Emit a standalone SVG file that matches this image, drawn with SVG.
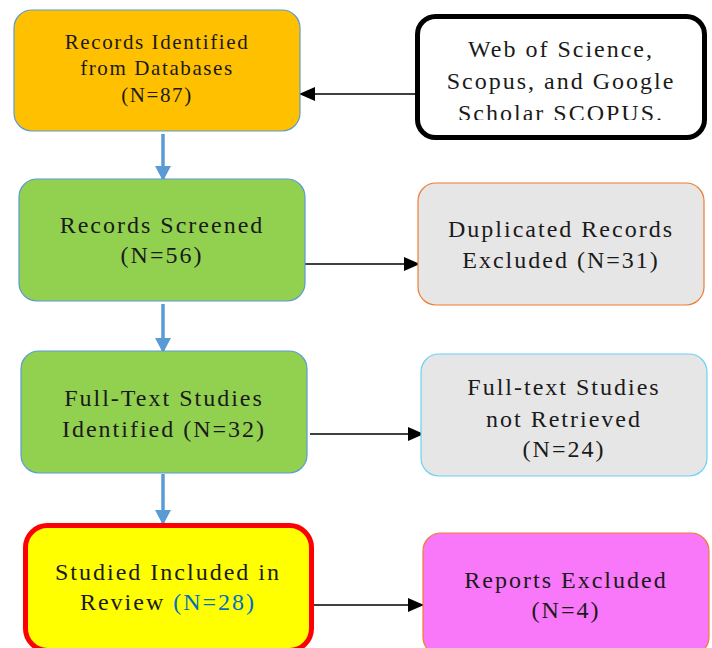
<svg xmlns="http://www.w3.org/2000/svg" width="712" height="648" viewBox="0 0 712 648">
<style>
text{font-family:"Liberation Serif","Times New Roman",serif;font-size:24px;fill:#1a1a1a;text-anchor:middle;letter-spacing:2px}
.sm{font-size:21px;letter-spacing:1.6px}
.blue{stroke:#5B9BD5;stroke-width:3.5;fill:none}
.blk{stroke:#000;stroke-width:1.5;fill:none}
</style>
<defs>
<marker id="ab" markerUnits="userSpaceOnUse" markerWidth="16" markerHeight="16" refX="14" refY="8" orient="auto"><path d="M0,0 L15,8 L0,16 Z" fill="#5B9BD5"/></marker>
<marker id="ak" markerUnits="userSpaceOnUse" markerWidth="16" markerHeight="16" refX="15" refY="8" orient="auto"><path d="M0,1 L16,8 L0,15 Z" fill="#000"/></marker>
<clipPath id="wclip"><rect x="420" y="20" width="282" height="100"/></clipPath>
</defs>
<g id="connectors">
<line class="blue" x1="163" y1="134" x2="163" y2="180" marker-end="url(#ab)"/>
<line class="blue" x1="163" y1="304" x2="163" y2="352" marker-end="url(#ab)"/>
<line class="blue" x1="163" y1="474" x2="163" y2="524" marker-end="url(#ab)"/>
<line class="blk" x1="415" y1="94" x2="300" y2="94" marker-end="url(#ak)"/>
<line class="blk" x1="305" y1="264" x2="419" y2="264" marker-end="url(#ak)"/>
<line class="blk" x1="310" y1="434" x2="423" y2="434" marker-end="url(#ak)"/>
<line class="blk" x1="313" y1="605" x2="423" y2="605" marker-end="url(#ak)"/>
</g>
<g id="n1">
<rect x="14" y="10" width="286" height="121" rx="18" fill="#FFC000" stroke="#5B9BD5" stroke-width="1.2"/>
<text class="sm" x="157" y="49">Records Identified</text>
<text class="sm" x="157" y="75">from Databases</text>
<text class="sm" x="157" y="102">(N=87)</text>
</g>
<g id="n2">
<rect x="417.5" y="16.5" width="287" height="121" rx="18" fill="#fff" stroke="#000" stroke-width="5"/>
<g clip-path="url(#wclip)">
<text x="561" y="57">Web of Science,</text>
<text x="561" y="89">Scopus, and Google</text>
<text x="561" y="121">Scholar SCOPUS.</text>
</g>
</g>
<g id="n3">
<rect x="19" y="179" width="286" height="122" rx="18" fill="#92D050" stroke="#5B9BD5" stroke-width="1.2"/>
<text x="162" y="233">Records Screened</text>
<text x="162" y="263">(N=56)</text>
</g>
<g id="n4">
<rect x="418" y="183" width="286" height="122" rx="18" fill="#E7E6E6" stroke="#ED7D31" stroke-width="1.2"/>
<text x="561" y="237">Duplicated Records</text>
<text x="561" y="268">Excluded (N=31)</text>
</g>
<g id="n5">
<rect x="21" y="351" width="286" height="122" rx="18" fill="#92D050" stroke="#5B9BD5" stroke-width="1.2"/>
<text x="164" y="406">Full-Text Studies</text>
<text x="164" y="437">Identified (N=32)</text>
</g>
<g id="n6">
<rect x="421" y="354" width="286" height="122" rx="18" fill="#E7E6E6" stroke="#66D2F5" stroke-width="1.2"/>
<text x="564" y="395">Full-text Studies</text>
<text x="564" y="427">not Retrieved</text>
<text x="564" y="457">(N=24)</text>
</g>
<g id="n7">
<rect x="25.5" y="525.5" width="286" height="125" rx="22" fill="#FFFF00" stroke="#FF0000" stroke-width="5"/>
<text x="168" y="580">Studied Included in</text>
<text x="168" y="610">Review <tspan fill="#0070C0">(N=28)</tspan></text>
</g>
<g id="n8">
<rect x="423" y="533" width="286" height="122" rx="18" fill="#F978F9" stroke="#ED7D31" stroke-width="1.2"/>
<text x="566" y="588">Reports Excluded</text>
<text x="566" y="618">(N=4)</text>
</g>
</svg>
